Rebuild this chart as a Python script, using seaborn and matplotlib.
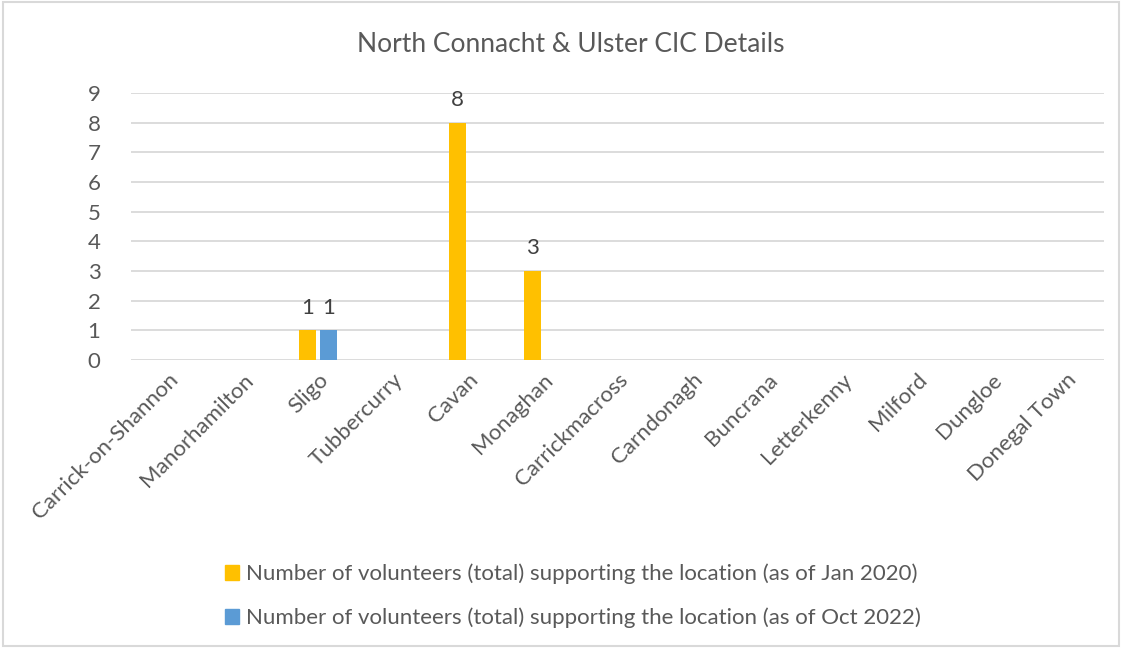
import matplotlib
matplotlib.use("Agg")
import matplotlib.pyplot as plt
import seaborn as sns
import pandas as pd
from matplotlib.patches import Rectangle

# Locations and volunteer counts
locations = ["Carrick-on-Shannon", "Manorhamilton", "Sligo", "Tubbercurry", "Cavan",
             "Monaghan", "Carrickmacross", "Carndonagh", "Buncrana", "Letterkenny",
             "Milford", "Dungloe", "Donegal Town"]
jan_2020 = [0, 0, 1, 0, 8, 3, 0, 0, 0, 0, 0, 0, 0]
oct_2022 = [0, 0, 1, 0, 0, 0, 0, 0, 0, 0, 0, 0, 0]
series_names = ["Number of volunteers (total) supporting the location (as of Jan 2020)",
                "Number of volunteers (total) supporting the location (as of Oct 2022)"]
series_colors = ["#FFC000", "#5B9BD5"]
title = "North Connacht & Ulster CIC Details"
y_ticks = list(range(0, 10))

df = pd.DataFrame({
    "Location": locations * 2,
    "Series": [series_names[0]] * len(locations) + [series_names[1]] * len(locations),
    "Volunteers": jan_2020 + oct_2022,
})

sns.set_theme(style="white")
plt.rcParams["font.family"] = ["Lato", "DejaVu Sans"]
text_color = "#595959"
grid_color = "#D9D9D9"

fig = plt.figure(figsize=(11.22, 6.48), dpi=100)
ax = fig.add_axes([131 / 1122, 1 - 360 / 648, (1104 - 131) / 1122, (360 - 93) / 648])

sns.barplot(data=df, x="Location", y="Volunteers", hue="Series", order=locations,
            hue_order=series_names, palette=series_colors, width=0.56, gap=0.18,
            linewidth=0, saturation=1, legend=False, ax=ax, zorder=3)

ax.set_ylim(0, 9)
ax.set_yticks(y_ticks)
ax.set_xlim(-0.5, len(locations) - 0.5)
ax.yaxis.grid(True, color=grid_color, linewidth=1.3, zorder=0)
ax.set_axisbelow(True)
for s in ax.spines.values():
    s.set_visible(False)
ax.set_xlabel("")
ax.set_ylabel("")
ax.tick_params(axis="y", length=0, pad=22, labelsize=16, labelcolor=text_color)
ax.tick_params(axis="x", length=0, pad=7, labelsize=16, labelcolor=text_color)
for lbl in ax.get_xticklabels():
    lbl.set_rotation(45)
    lbl.set_ha("right")
    lbl.set_rotation_mode("anchor")

# Value labels on non-empty bars
for container in ax.containers:
    labels = [f"{int(b.get_height())}" if b.get_height() > 0 else "" for b in container]
    ax.bar_label(container, labels=labels, padding=9, fontsize=16, color="#404040")

fig.text(571 / 1122, 1 - 44 / 648, title, ha="center", va="center",
         fontsize=19, color=text_color)

handles = [Rectangle((0, 0), 1, 1, color=c) for c in series_colors]
fig.legend(handles, series_names, loc="center", bbox_to_anchor=(573 / 1122, 1 - 596 / 648),
           ncol=1, frameon=False, fontsize=16, labelcolor=text_color,
           handlelength=0.65, handleheight=0.65, handletextpad=0.3, labelspacing=1.05)

# Light border around the chart area
fig.add_artist(Rectangle((0.003, 0.003), 0.994, 0.994, transform=fig.transFigure,
                         fill=False, edgecolor=grid_color, linewidth=1.5))

fig.savefig("out.png", dpi=100, facecolor="white")
